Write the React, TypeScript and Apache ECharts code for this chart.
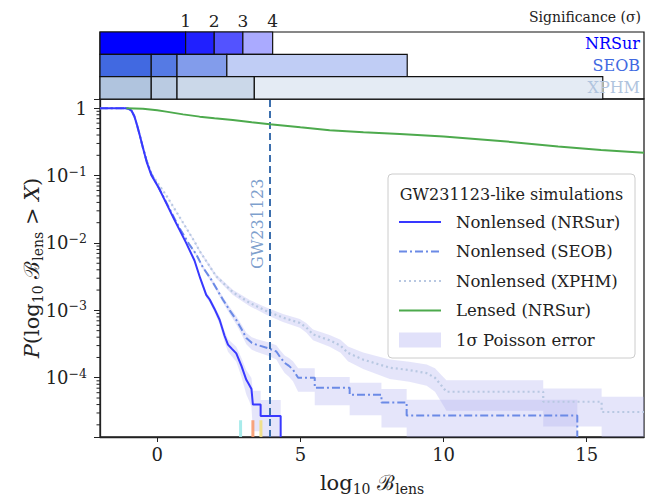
import React, { useEffect, useRef } from 'react';
import * as echarts from 'echarts';

// ---------- axes ----------
const X_MIN = -2;
const X_MAX = 17;
const Y_MIN = 1.32e-5;
const Y_MAX = 1.37;
const xTickValues = [0, 5, 10, 15];

// number of simulations used for the Poisson error
const N_SIM = 70000;

// observed event
const GW_EVENT = 3.93;
const GW_LABEL_P = 0.0193;

// ---------- survival curves [log10 B, P(>X)] (0 = no further events) ----------
const nonlensedNRSur: [number, number][] = [
  [-2.0, 1.0], [-1.1, 1.0], [-1.0, 0.98], [-0.9, 0.92], [-0.8, 0.76], [-0.7, 0.55],
  [-0.6, 0.38], [-0.5, 0.26], [-0.37, 0.16], [-0.2, 0.1], [0.05, 0.066], [0.3, 0.04],
  [0.6, 0.022], [1.0, 0.0102], [1.3, 0.0055], [1.5, 0.003], [1.71, 0.0017], [1.83, 0.00145],
  [2.0, 0.00105], [2.18, 0.00072], [2.35, 0.00042], [2.47, 0.00031], [2.6, 0.00027],
  [2.76, 0.00023], [2.94, 0.00015], [3.11, 9.3e-5], [3.2, 8.0e-5], [3.29, 6.8e-5],
  [3.34, 4.0e-5], [3.61, 4.0e-5], [3.61, 2.7e-5], [4.31, 2.7e-5], [4.31, 0],
];

const nonlensedSEOB: [number, number][] = [
  [-2.0, 1.0], [-1.1, 1.0], [-1.0, 0.98], [-0.9, 0.92], [-0.8, 0.76], [-0.7, 0.55],
  [-0.6, 0.38], [-0.5, 0.26], [-0.37, 0.165], [-0.2, 0.105], [0.2, 0.05], [0.5, 0.028],
  [0.78, 0.0166], [1.1, 0.0098], [1.36, 0.0068], [1.6, 0.0043], [1.9, 0.0028],
  [2.29, 0.00145], [2.53, 0.001], [2.76, 0.00072], [2.95, 0.00052], [3.11, 0.00039],
  [3.3, 0.00033], [3.46, 0.00031], [3.87, 0.000275], [4.16, 0.000245], [4.3, 0.0002],
  [4.45, 0.000166], [4.6, 0.00015], [4.74, 0.000132], [4.92, 0.0001], [5.5, 0.0001],
  [5.5, 7.1e-5], [6.72, 7.1e-5], [6.72, 5.6e-5], [7.83, 5.6e-5], [7.83, 4.3e-5],
  [8.71, 4.3e-5], [8.71, 2.75e-5], [14.67, 2.75e-5], [14.67, 0],
];

const nonlensedXPHM: [number, number][] = [
  [-2.0, 1.0], [-1.1, 1.0], [-1.0, 0.98], [-0.9, 0.92], [-0.8, 0.76], [-0.7, 0.55],
  [-0.6, 0.38], [-0.5, 0.26], [-0.37, 0.165], [-0.2, 0.105], [0.3, 0.052], [0.9, 0.02],
  [1.3, 0.0105], [1.48, 0.0076], [2.06, 0.0032], [2.64, 0.00186], [3.23, 0.00129],
  [3.81, 0.00098], [4.39, 0.00078], [4.98, 0.00065], [5.2, 0.00056], [5.44, 0.00044],
  [6.02, 0.00036], [6.4, 0.0003], [6.66, 0.000234], [7.19, 0.000186], [8.12, 0.000141],
  [8.8, 0.00013], [9.41, 0.000117], [9.7, 0.0001], [9.93, 7.6e-5], [10.1, 6.2e-5],
  [13.48, 6.2e-5], [13.48, 4.4e-5], [15.52, 4.4e-5], [15.52, 3.1e-5], [17.0, 3.1e-5],
];

const lensedNRSur: [number, number][] = [
  [-1.08, 1.0], [-0.5, 0.985], [0.0, 0.93], [0.31, 0.89], [0.9, 0.81], [1.48, 0.75],
  [2.0, 0.71], [2.64, 0.67], [3.3, 0.62], [3.93, 0.58], [5.0, 0.52], [6.02, 0.47],
  [7.2, 0.44], [8.47, 0.415], [10.0, 0.38], [11.98, 0.327], [14.0, 0.27], [15.5, 0.24],
  [17.0, 0.218],
];

// ---------- other events marked at the bottom ----------
const eventMarkX = [2.91, 3.34, 3.62];
const eventMarkColors = ['#9ee9e9', '#f79a6e', '#f1df7e'];
const EVENT_MARK_TOP = 2.34e-5;

// ---------- significance panel ----------
const sigRowNames = ['XPHM', 'SEOB', 'NRSur'];
const sigRowLabelColors = ['#b0c4de', '#4169e1', '#0000ff'];
const nrsurSigEdges = [-2, 0.99, 1.99, 2.99, 4.03];
const seobSigEdges = [-2, -0.21, 0.69, 2.43, 8.73];
const xphmSigEdges = [-2, -0.21, 0.69, 3.39, 15.56];
const nrsurSigColors = ['#0000ff', '#2020ff', '#5353ff', '#aaaaff'];
const seobSigColors = ['#4169e1', '#557ae4', '#829ceb', '#c0cdf5'];
const xphmSigColors = ['#b0c4de', '#bacbe2', '#cbd8e9', '#e4ebf4'];
const sigTickLabels = ['1', '2', '3', '4'];

// ---------- styles ----------
const FONT = "'DejaVu Serif', 'Liberation Serif', serif";
const INK = '#222222';
const C_NRSUR = '#3838ff';
const C_SEOB = '#6b8ae6';
const C_XPHM = '#b8c8e2';
const C_LENSED = '#4daa4d';
const C_EVENT = '#3c6fae';
const BAND_FILL = 'rgba(175,175,240,0.33)';
const DASH_SEOB = [8, 3, 2, 3];
const DASH_XPHM = [2, 3];

const toLine = (c: [number, number][]) => c.map(([x, p]) => [x, p > 0 ? p : Y_MIN]);

function bandPolygon(c: [number, number][]) {
  const up: number[][] = [];
  const lo: number[][] = [];
  c.forEach(([x, p]) => {
    const xx = Math.min(X_MAX, Math.max(X_MIN, x));
    if (p <= 0) {
      up.push([xx, Y_MIN]);
      lo.push([xx, Y_MIN]);
      return;
    }
    const e = Math.sqrt(p * N_SIM) / N_SIM;
    up.push([xx, Math.min(Y_MAX, p + e)]);
    lo.push([xx, Math.max(Y_MIN, p - e)]);
  });
  return up.concat(lo.reverse());
}

function bandSeries(c: [number, number][]) {
  const poly = bandPolygon(c);
  return {
    type: 'custom',
    xAxisIndex: 0,
    yAxisIndex: 0,
    z: 1,
    silent: true,
    data: [[0, 0.5]],
    renderItem: (_p: any, api: any) => ({
      type: 'polygon',
      shape: { points: poly.map((pt) => api.coord(pt)) },
      style: { fill: BAND_FILL, stroke: null },
    }),
  };
}

function lineSeries(c: [number, number][], color: string, type: any, z: number, width = 2) {
  return {
    type: 'line',
    xAxisIndex: 0,
    yAxisIndex: 0,
    data: toLine(c),
    symbol: 'none',
    showSymbol: false,
    z,
    clip: true,
    silent: true,
    lineStyle: { color, width, type },
  };
}

function buildOption() {
  const minorVals: number[][] = [];
  for (let e = -5; e <= 0; e++) {
    for (let m = 2; m <= 9; m++) {
      const v = m * Math.pow(10, e);
      if (v > Y_MIN && v < Y_MAX) minorVals.push([X_MIN, v]);
    }
  }

  const sigRows = [
    { idx: 2, edges: nrsurSigEdges, colors: nrsurSigColors },
    { idx: 1, edges: seobSigEdges, colors: seobSigColors },
    { idx: 0, edges: xphmSigEdges, colors: xphmSigColors },
  ];
  const sigSegments: any[] = [];
  sigRows.forEach((r) =>
    r.edges.slice(0, -1).forEach((x0, i) =>
      sigSegments.push({ value: [x0, r.edges[i + 1], r.idx], itemStyle: { color: r.colors[i] } })
    )
  );

  const legendItems = [
    { label: 'Nonlensed (NRSur)', color: C_NRSUR, dash: null },
    { label: 'Nonlensed (SEOB)', color: C_SEOB, dash: DASH_SEOB },
    { label: 'Nonlensed (XPHM)', color: C_XPHM, dash: DASH_XPHM },
    { label: 'Lensed (NRSur)', color: C_LENSED, dash: null },
    { label: '1\u03c3 Poisson error', color: BAND_FILL, dash: 'patch' },
  ];
  const LX = 388, LY = 174, LW = 247, LH = 184;
  const legendChildren: any[] = [
    {
      type: 'rect',
      shape: { x: LX, y: LY, width: LW, height: LH, r: 4 },
      style: { fill: 'rgba(255,255,255,0.85)', stroke: '#cccccc', lineWidth: 1 },
    },
    {
      type: 'text',
      x: LX + LW / 2,
      y: LY + 20,
      style: { text: 'GW231123-like simulations', fontSize: 16, fontFamily: FONT, fill: INK, align: 'center', verticalAlign: 'middle' },
    },
  ];
  legendItems.forEach((it, i) => {
    const y = LY + 48 + i * 29.5;
    if (it.dash === 'patch') {
      legendChildren.push({
        type: 'rect',
        shape: { x: LX + 11, y: y - 7.5, width: 42, height: 15 },
        style: { fill: 'rgba(215,215,248,0.75)' },
      });
    } else {
      legendChildren.push({
        type: 'line',
        shape: { x1: LX + 11, y1: y, x2: LX + 53, y2: y },
        style: { stroke: it.color, lineWidth: 2, lineDash: it.dash || null },
      });
    }
    legendChildren.push({
      type: 'text',
      x: LX + 68,
      y,
      style: { text: it.label, fontSize: 16.5, fontFamily: FONT, fill: INK, align: 'left', verticalAlign: 'middle' },
    });
  });

  const nameRich = {
    t: { fontSize: 21, fontFamily: FONT, color: INK, lineHeight: 26 },
    i: { fontSize: 21, fontFamily: FONT, color: INK, lineHeight: 26, fontStyle: 'italic' },
    s: { fontSize: 14, fontFamily: FONT, color: INK, lineHeight: 12, verticalAlign: 'bottom' },
  };

  return {
    animation: false,
    backgroundColor: '#ffffff',
    grid: [
      { left: 100, right: 8, top: 99, height: 338, show: true, borderColor: INK, borderWidth: 1.3, containLabel: false, outerBoundsMode: 'none' },
      { left: 100, right: 8, top: 32, height: 67, show: true, borderColor: '#111111', borderWidth: 1.2, containLabel: false, outerBoundsMode: 'none' },
    ],
    xAxis: [
      {
        type: 'value',
        gridIndex: 0,
        min: X_MIN,
        max: X_MAX,
        splitLine: { show: false },
        axisLine: { show: true, onZero: false, lineStyle: { color: INK, width: 1.3 } },
        axisTick: { show: true, customValues: xTickValues, length: 5, lineStyle: { color: INK, width: 1 } },
        axisLabel: { customValues: xTickValues, fontSize: 18, fontFamily: FONT, color: INK, margin: 8 },
        name: '{t|log}{s|10}{t| }{t|\u212c}{s|lens}',
        nameLocation: 'middle',
        nameGap: 33,
        nameMoveOverlap: false,
        nameTextStyle: { fontFamily: FONT, color: INK, fontSize: 21, rich: nameRich },
      },
      { type: 'value', gridIndex: 1, min: X_MIN, max: X_MAX, show: false },
    ],
    yAxis: [
      {
        type: 'log',
        logBase: 10,
        gridIndex: 0,
        min: Y_MIN,
        max: Y_MAX,
        splitLine: { show: false },
        minorTick: { show: false },
        axisLine: { show: true, onZero: false, lineStyle: { color: INK, width: 1.3 } },
        axisTick: { show: true, length: 6, lineStyle: { color: INK, width: 1 } },
        axisLabel: {
          margin: 13,
          fontFamily: FONT,
          color: INK,
          formatter: (v: number) => {
            const e = Math.log10(v);
            const r = Math.round(e);
            if (Math.abs(e - r) > 1e-4) return '';
            if (r === 0) return '{b|1}';
            return `{b|10}{e|\u2212${-r}}`;
          },
          rich: {
            b: { fontSize: 18, fontFamily: FONT, color: INK, lineHeight: 22 },
            e: { fontSize: 12.5, fontFamily: FONT, color: INK, lineHeight: 12, verticalAlign: 'top' },
          },
        },
        name: '{i|P}{t|(log}{s|10}{t| }{t|\u212c}{s|lens}{t| > }{i|X}{t|)}',
        nameLocation: 'middle',
        nameGap: 55,
        nameMoveOverlap: false,
        nameTextStyle: { fontFamily: FONT, color: INK, fontSize: 21, rich: nameRich },
      },
      {
        type: 'category',
        gridIndex: 1,
        data: sigRowNames,
        position: 'right',
        z: 10,
        axisLine: { show: false },
        axisTick: { show: false },
        splitLine: { show: false },
        axisLabel: {
          inside: true,
          margin: 4,
          fontSize: 16,
          fontFamily: FONT,
          color: (_v: any, idx: number) => sigRowLabelColors[idx],
        },
      },
    ],
    graphic: [
      {
        type: 'text',
        x: 641,
        y: 17,
        style: { text: 'Significance (\u03c3)', fontSize: 14, fontFamily: FONT, fill: INK, align: 'right', verticalAlign: 'middle' },
      },
      { type: 'group', children: legendChildren, z: 100 },
    ],
    series: [
      bandSeries(nonlensedXPHM),
      bandSeries(nonlensedSEOB),
      bandSeries(nonlensedNRSur),
      {
        type: 'custom',
        xAxisIndex: 0,
        yAxisIndex: 0,
        z: 2,
        silent: true,
        data: eventMarkX.map((x, i) => ({ value: [x, EVENT_MARK_TOP], itemStyle: { color: eventMarkColors[i] } })),
        renderItem: (_p: any, api: any) => {
          const a = api.coord([api.value(0), api.value(1)]);
          const b = api.coord([api.value(0), Y_MIN]);
          return {
            type: 'rect',
            shape: { x: a[0] - 1.5, y: a[1], width: 3, height: b[1] - a[1] },
            style: { fill: api.visual('color'), opacity: 0.9 },
          };
        },
      },
      lineSeries(nonlensedXPHM, C_XPHM, DASH_XPHM, 3, 2.2),
      lineSeries(nonlensedSEOB, C_SEOB, DASH_SEOB, 4),
      lineSeries(nonlensedNRSur, C_NRSUR, 'solid', 5),
      {
        ...lineSeries(lensedNRSur, C_LENSED, 'solid', 6),
        markLine: {
          silent: true,
          symbol: ['none', 'none'],
          label: { show: false },
          lineStyle: { color: C_EVENT, width: 2, type: [7, 4] },
          data: [{ xAxis: GW_EVENT }],
        },
      },
      {
        type: 'scatter',
        xAxisIndex: 0,
        yAxisIndex: 0,
        silent: true,
        z: 7,
        symbolSize: 1,
        itemStyle: { color: 'rgba(0,0,0,0)' },
        data: [[GW_EVENT, GW_LABEL_P]],
        label: {
          show: true,
          formatter: 'GW231123',
          position: 'inside',
          rotate: 90,
          offset: [0, -12],
          fontSize: 16,
          fontFamily: FONT,
          color: '#5b86c0',
        },
      },
      {
        type: 'custom',
        xAxisIndex: 0,
        yAxisIndex: 0,
        silent: true,
        clip: false,
        z: 8,
        data: minorVals,
        renderItem: (_p: any, api: any) => {
          const p = api.coord([api.value(0), api.value(1)]);
          return {
            type: 'line',
            shape: { x1: p[0] - 3.5, y1: p[1], x2: p[0], y2: p[1] },
            style: { stroke: INK, lineWidth: 1 },
          };
        },
      },
      {
        type: 'custom',
        xAxisIndex: 1,
        yAxisIndex: 1,
        silent: true,
        z: 2,
        encode: { x: [0, 1], y: 2 },
        data: sigSegments,
        renderItem: (_p: any, api: any) => {
          const a = api.coord([api.value(0), api.value(2)]);
          const b = api.coord([api.value(1), api.value(2)]);
          const h = api.size([0, 1])[1];
          return {
            type: 'rect',
            shape: { x: a[0], y: a[1] - h / 2, width: b[0] - a[0], height: h },
            style: { fill: api.visual('color'), stroke: '#111111', lineWidth: 1.2 },
          };
        },
      },
      {
        type: 'custom',
        xAxisIndex: 1,
        yAxisIndex: 1,
        silent: true,
        clip: false,
        z: 3,
        encode: { x: 0, y: 1 },
        data: nrsurSigEdges.slice(1).map((x) => [x, 2]),
        renderItem: (params: any, api: any) => {
          const p = api.coord([api.value(0), api.value(1)]);
          const h = api.size([0, 1])[1];
          return {
            type: 'text',
            x: p[0],
            y: p[1] - h / 2 - 3,
            style: {
              text: sigTickLabels[params.dataIndex],
              fontSize: 17,
              fontFamily: FONT,
              fill: INK,
              align: 'center',
              verticalAlign: 'bottom',
            },
          };
        },
      },
    ],
  };
}

export default function App() {
  const ref = useRef<HTMLDivElement>(null);
  useEffect(() => {
    document.body.style.margin = '0';
    const chart = echarts.init(ref.current as HTMLDivElement, undefined, { renderer: 'svg' });
    chart.setOption(buildOption() as any);
    return () => chart.dispose();
  }, []);
  return <div ref={ref} style={{ width: 652, height: 498 }} />;
}
